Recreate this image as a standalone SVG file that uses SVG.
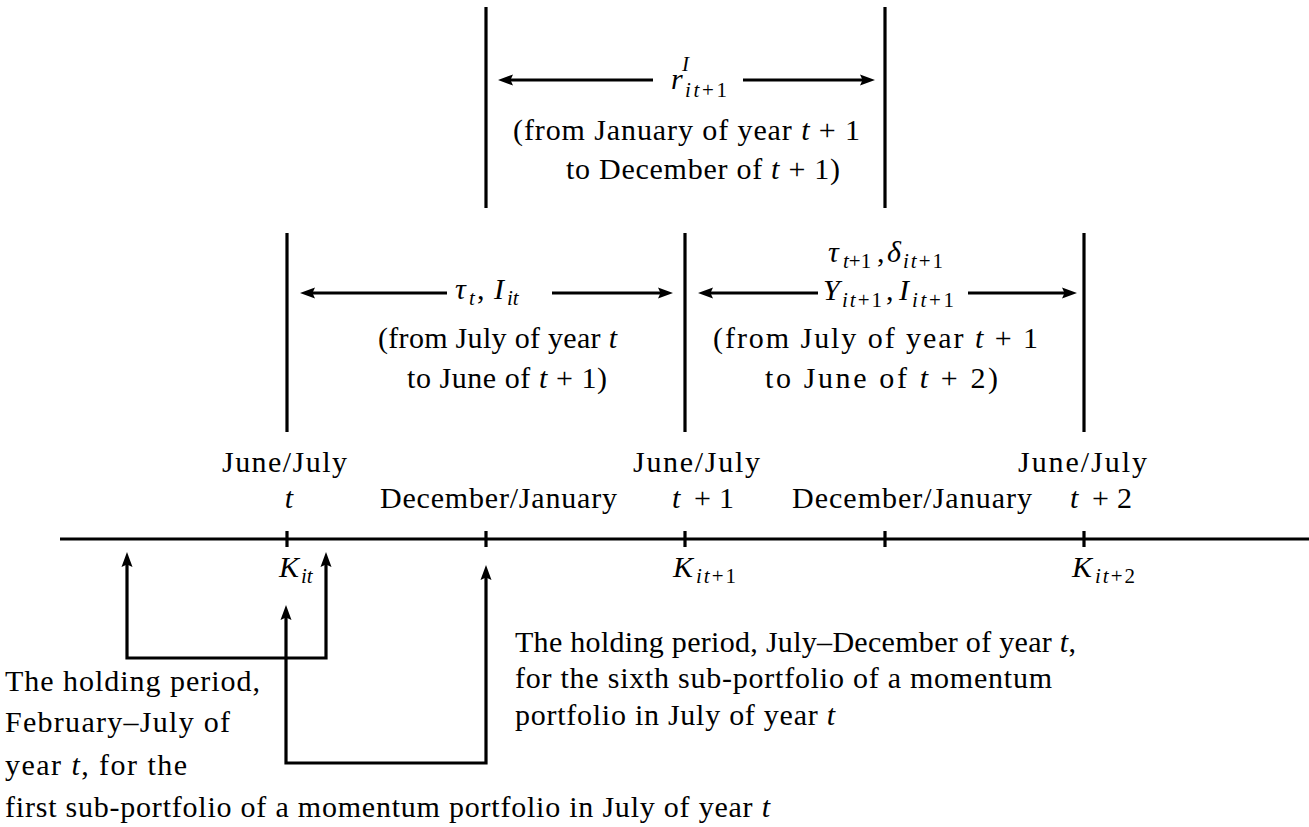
<svg xmlns="http://www.w3.org/2000/svg" width="1309" height="827" viewBox="0 0 1309 827">
<style>
.ln{fill:none;stroke:#000;stroke-width:3.2}
.hd{fill:#000;stroke:none}
</style>
<rect width="1309" height="827" fill="#fff"/>

<g id="top-period">
<path class="ln" d="M486,7 V208 M885,7 V208"/>
<text font-family="Liberation Serif" font-size="30" font-style="italic" x="671" y="89">r</text>
<text font-family="Liberation Serif" font-size="21" font-style="italic" x="682" y="71">I</text>
<text font-family="Liberation Serif" font-size="21" x="685" y="97" textLength="42" lengthAdjust="spacing"><tspan font-style="italic">it</tspan>+1</text>
<text font-family="Liberation Serif" font-size="30" x="513" y="140" textLength="347" lengthAdjust="spacing">(from January of year <tspan font-style="italic">t</tspan> + 1</text>
<text font-family="Liberation Serif" font-size="30" x="566" y="179" textLength="274" lengthAdjust="spacing">to December of <tspan font-style="italic">t</tspan> + 1)</text>
</g>

<g id="mid-left-period">
<path class="ln" d="M287,233 V432 M685,233 V432"/>
<text font-family="Liberation Serif" font-size="30" font-style="italic" x="455" y="299">τ</text>
<text font-family="Liberation Serif" font-size="21" font-style="italic" x="469" y="305">t</text>
<text font-family="Liberation Serif" font-size="30" x="477" y="299">,</text>
<text font-family="Liberation Serif" font-size="30" font-style="italic" x="494" y="299">I</text>
<text font-family="Liberation Serif" font-size="21" font-style="italic" x="507" y="305">it</text>
<text font-family="Liberation Serif" font-size="30" x="378" y="348" textLength="239" lengthAdjust="spacing">(from July of year <tspan font-style="italic">t</tspan></text>
<text font-family="Liberation Serif" font-size="30" x="407" y="388" textLength="200" lengthAdjust="spacing">to June of <tspan font-style="italic">t</tspan> + 1)</text>
</g>

<g id="mid-right-period">
<path class="ln" d="M1084,233 V432"/>
<text font-family="Liberation Serif" font-size="30" font-style="italic" x="828" y="262">τ</text>
<text font-family="Liberation Serif" font-size="21" x="843" y="268"><tspan font-style="italic">t</tspan>+1</text>
<text font-family="Liberation Serif" font-size="30" x="877" y="262">,</text>
<text font-family="Liberation Serif" font-size="30" font-style="italic" x="887" y="262">δ</text>
<text font-family="Liberation Serif" font-size="21" x="903" y="268" textLength="40" lengthAdjust="spacing"><tspan font-style="italic">it</tspan>+1</text>
<text font-family="Liberation Serif" font-size="30" font-style="italic" x="823" y="300">Y</text>
<text font-family="Liberation Serif" font-size="21" x="842" y="307" textLength="40" lengthAdjust="spacing"><tspan font-style="italic">it</tspan>+1</text>
<text font-family="Liberation Serif" font-size="30" x="886" y="300">,</text>
<text font-family="Liberation Serif" font-size="30" font-style="italic" x="899" y="300">I</text>
<text font-family="Liberation Serif" font-size="21" x="912" y="307" textLength="42" lengthAdjust="spacing"><tspan font-style="italic">it</tspan>+1</text>
<text font-family="Liberation Serif" font-size="30" x="713" y="348" textLength="325" lengthAdjust="spacing">(from July of year <tspan font-style="italic">t</tspan> + 1</text>
<text font-family="Liberation Serif" font-size="30" x="765" y="388" textLength="233" lengthAdjust="spacing">to June of <tspan font-style="italic">t</tspan> + 2)</text>
</g>

<g id="axis">
<path class="ln" d="M60,539 H1309 M287,531 V547 M486,531 V547 M685,531 V547 M885,531 V547 M1084,531 V547"/>
</g>

<g id="axis-labels">
<text font-family="Liberation Serif" font-size="30" x="222" y="472" textLength="125" lengthAdjust="spacing">June/July</text>
<text font-family="Liberation Serif" font-size="30" x="633" y="472" textLength="127" lengthAdjust="spacing">June/July</text>
<text font-family="Liberation Serif" font-size="30" x="1018" y="472" textLength="129" lengthAdjust="spacing">June/July</text>
<text font-family="Liberation Serif" font-size="30" font-style="italic" x="289" y="508" text-anchor="middle">t</text>
<text font-family="Liberation Serif" font-size="30" x="380" y="508" textLength="237" lengthAdjust="spacing">December/January</text>
<text font-family="Liberation Serif" font-size="30" y="508"><tspan font-style="italic" x="672">t</tspan><tspan x="694">+</tspan><tspan x="719">1</tspan></text>
<text font-family="Liberation Serif" font-size="30" x="792" y="508" textLength="240" lengthAdjust="spacing">December/January</text>
<text font-family="Liberation Serif" font-size="30" y="508"><tspan font-style="italic" x="1070">t</tspan><tspan x="1092">+</tspan><tspan x="1117">2</tspan></text>
<text font-family="Liberation Serif" font-size="30" font-style="italic" x="279" y="577">K</text>
<text font-family="Liberation Serif" font-size="21" font-style="italic" x="301" y="583">it</text>
<text font-family="Liberation Serif" font-size="30" font-style="italic" x="673" y="577">K</text>
<text font-family="Liberation Serif" font-size="21" x="696" y="583" textLength="40" lengthAdjust="spacing"><tspan font-style="italic">it</tspan>+1</text>
<text font-family="Liberation Serif" font-size="30" font-style="italic" x="1072" y="577">K</text>
<text font-family="Liberation Serif" font-size="21" x="1095" y="583" textLength="40" lengthAdjust="spacing"><tspan font-style="italic">it</tspan>+2</text>
</g>

<g id="note-first">
<text font-family="Liberation Serif" font-size="30" x="5" y="691" textLength="255" lengthAdjust="spacing">The holding period,</text>
<text font-family="Liberation Serif" font-size="30" x="5" y="732" textLength="225" lengthAdjust="spacing">February–July of</text>
<text font-family="Liberation Serif" font-size="30" x="5" y="775" textLength="182" lengthAdjust="spacing">year <tspan font-style="italic">t</tspan>, for the</text>
<text font-family="Liberation Serif" font-size="30" x="5" y="817" textLength="765" lengthAdjust="spacing">first sub-portfolio of a momentum portfolio in July of year <tspan font-style="italic">t</tspan></text>
</g>

<g id="note-sixth">
<text font-family="Liberation Serif" font-size="30" x="515" y="652" textLength="561" lengthAdjust="spacing">The holding period, July–December of year <tspan font-style="italic">t</tspan>,</text>
<text font-family="Liberation Serif" font-size="30" x="515" y="688" textLength="537" lengthAdjust="spacing">for the sixth sub-portfolio of a momentum</text>
<text font-family="Liberation Serif" font-size="30" x="515" y="725" textLength="320" lengthAdjust="spacing">portfolio in July of year <tspan font-style="italic">t</tspan></text>
</g>

<g id="connectors">
<path class="ln" d="M653,80 H508 M743,80 H865 M447,293 H310 M552,293 H663 M818,293 H708 M968,293 H1067"/>
<path class="ln" d="M127,562 V658 H326 V562"/>
<path class="ln" d="M286,615 V763 H486 V575"/>
<path class="hd" d="M498,80 l15,-5.5 l-2.5,5.5 l2.5,5.5 Z M875,80 l-15,-5.5 l2.5,5.5 l-2.5,5.5 Z M300,293 l15,-5.5 l-2.5,5.5 l2.5,5.5 Z M673,293 l-15,-5.5 l2.5,5.5 l-2.5,5.5 Z M698,293 l15,-5.5 l-2.5,5.5 l2.5,5.5 Z M1077,293 l-15,-5.5 l2.5,5.5 l-2.5,5.5 Z"/>
<path class="hd" d="M127,552 l-5.5,15 l5.5,-2.5 l5.5,2.5 Z M326,552 l-5.5,15 l5.5,-2.5 l5.5,2.5 Z M286,605 l-5.5,15 l5.5,-2.5 l5.5,2.5 Z M486,565 l-5.5,15 l5.5,-2.5 l5.5,2.5 Z"/>
</g>
</svg>
